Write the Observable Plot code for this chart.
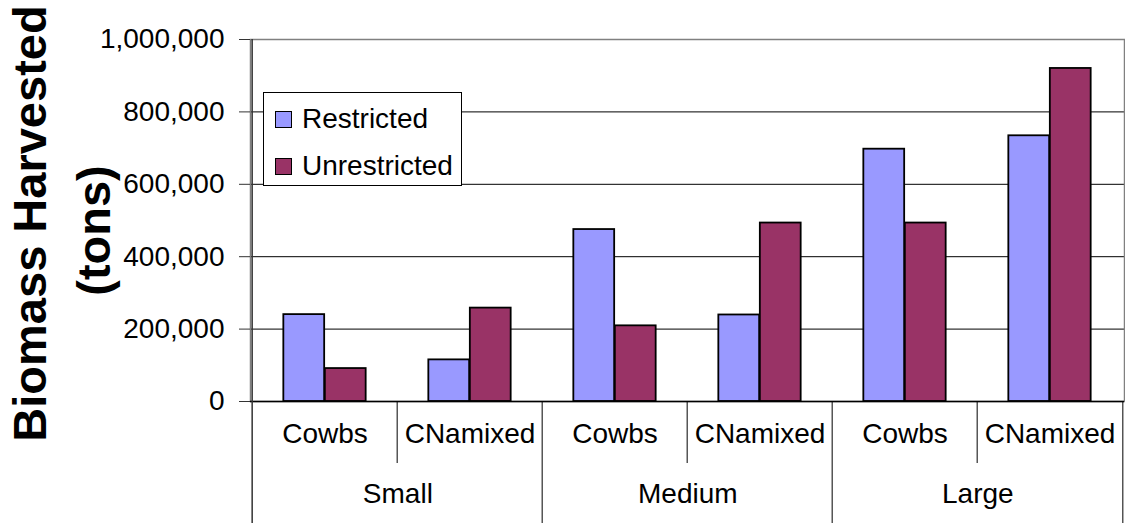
<!DOCTYPE html>
<html><head><meta charset="utf-8">
<script src="https://cdn.jsdelivr.net/npm/d3@7"></script>
<script src="https://cdn.jsdelivr.net/npm/@observablehq/plot@0.6"></script>
<style>
body{margin:0;background:#fff;font-family:"Liberation Sans",Arial,sans-serif;}
#wrap{position:relative;width:1125px;height:523px;overflow:hidden;}
#legend{position:absolute;left:263px;top:92px;width:197px;height:92px;border:1px solid #000;background:#fff;}
.item{position:absolute;left:11px;display:flex;align-items:center;font-size:28px;line-height:1;color:#000;}
.sw{width:15px;height:15px;border:1.5px solid #000;margin-right:10px;}
</style></head><body><div id="wrap"><div id="chart"></div><div id="legend"></div></div>
<script>
const groups = ["Small", "Medium", "Large"];
const types = ["Cowbs", "CNamixed"];
const seriesNames = ["Restricted", "Unrestricted"];
const restricted = [240000, 115000, 475000, 239000, 697000, 734000];
const unrestricted = [91000, 258000, 209000, 493000, 493000, 920000];
const yTicks = [0, 200000, 400000, 600000, 800000, 1000000];
const colors = ["#9999FF", "#993366"];
const yTitle = ["Biomass Harvested", "(tons)"];

const cats = groups.flatMap(g => types.map((t, j) => ({key: g + " " + t, group: g, type: t, first: j === 0})));
const rows = cats.flatMap((c, i) => [
  {...c, series: seriesNames[0], value: restricted[i]},
  {...c, series: seriesNames[1], value: unrestricted[i]}
]);

const W = 1125, H = 523, mL = 250, mR = 1, mT = 39, mB = 122;
const bw = (W - mL - mR) / cats.length;
const barW = 41.5;
const gap = (bw - 2 * barW) / 2;
const font = "Liberation Sans, Arial, sans-serif";

const chart = Plot.plot({
  width: W, height: H,
  marginLeft: mL, marginRight: mR, marginTop: mT, marginBottom: mB,
  style: {fontFamily: font, color: "#000", background: "#fff", overflow: "visible"},
  x: {domain: cats.map(d => d.key), padding: 0, axis: null},
  y: {domain: [0, 1000000], axis: null},
  marks: [
    Plot.ruleY(yTicks.filter(v => v > 0 && v < 1000000), {stroke: "#000", strokeWidth: 1}),
    Plot.frame({stroke: "#808080", strokeWidth: 1.5}),
    Plot.barY(rows.filter(d => d.series === seriesNames[0]), {x: "key", y: "value", fill: colors[0], stroke: "#000", strokeWidth: 1.8, insetLeft: gap, insetRight: bw - gap - barW}),
    Plot.barY(rows.filter(d => d.series === seriesNames[1]), {x: "key", y: "value", fill: colors[1], stroke: "#000", strokeWidth: 1.8, insetLeft: gap + barW, insetRight: gap}),
    Plot.ruleY([0], {stroke: "#000", strokeWidth: 1.5}),
    Plot.ruleX(cats.filter(d => !d.first), {x: "key", dx: -bw / 2, y1: 0, y2: 0, insetBottom: -62, stroke: "#000", strokeWidth: 1}),
    Plot.ruleX(cats.filter((d, i) => d.first && i > 0), {x: "key", dx: -bw / 2, y1: 0, y2: 0, insetBottom: -mB, stroke: "#000", strokeWidth: 1}),
    Plot.ruleX(cats.slice(-1), {x: "key", dx: bw / 2, y1: 0, y2: 0, insetBottom: -mB, stroke: "#000", strokeWidth: 1}),
    Plot.ruleX(cats.slice(0, 1), {x: "key", dx: -bw / 2, insetBottom: -mB, stroke: "#333", strokeWidth: 1.5}),
    Plot.text(cats, {x: "key", text: "type", frameAnchor: "bottom", dy: 41, fontSize: 28, fill: "#000"}),
    Plot.text(cats.filter(d => d.first), {x: "key", text: "group", frameAnchor: "bottom", dx: bw / 2, dy: 101, fontSize: 28, fill: "#000"}),
    Plot.axisY({ticks: yTicks, tickFormat: d3.format(","), tickSize: 11, tickPadding: 15, fontSize: 28, label: null, stroke: "#333"}),
    Plot.text([yTitle[0]], {frameAnchor: "left", textAnchor: "middle", rotate: -90, dx: -220, dy: 3, fontSize: 47, fontWeight: "bold", fill: "#000"}),
    Plot.text([yTitle[1]], {frameAnchor: "left", textAnchor: "middle", rotate: -90, dx: -156, dy: 10, fontSize: 47, fontWeight: "bold", fill: "#000"})
  ]
});
document.getElementById("chart").appendChild(chart);

const legend = document.getElementById("legend");
seriesNames.forEach((s, i) => {
  const item = document.createElement("div");
  item.className = "item";
  item.style.top = (i === 0 ? 12 : 59) + "px";
  const sw = document.createElement("span");
  sw.className = "sw";
  sw.style.background = colors[i];
  item.appendChild(sw);
  item.appendChild(document.createTextNode(s));
  legend.appendChild(item);
});
</script></body></html>
